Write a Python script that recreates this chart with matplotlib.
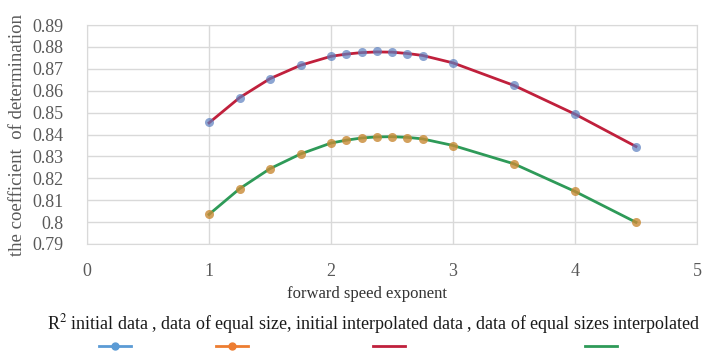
import matplotlib
matplotlib.use('Agg')
import matplotlib.pyplot as plt

plt.rcParams['font.family'] = ['Liberation Serif', 'DejaVu Serif']
plt.rcParams['mathtext.fontset'] = 'stix'

# forward speed exponent
x = [1, 1.25, 1.5, 1.75, 2, 2.125, 2.25, 2.375, 2.5, 2.625, 2.75, 3, 3.5, 4, 4.5]

# R^2 values
initial = [0.8458, 0.8567, 0.8653, 0.8717, 0.8759, 0.8768, 0.8775, 0.8779,
           0.8775, 0.8768, 0.8759, 0.8728, 0.8626, 0.8494, 0.8344]
equal_size = [0.8037, 0.8151, 0.8242, 0.8311, 0.8363, 0.8375, 0.8386, 0.8390,
              0.8390, 0.8386, 0.8378, 0.8349, 0.8265, 0.8142, 0.8000]
initial_interp = [0.8453, 0.8568, 0.8655, 0.8716, 0.8757, 0.8767, 0.8774, 0.8777,
                  0.8776, 0.8770, 0.8761, 0.8727, 0.8624, 0.8493, 0.8345]
equal_interp = [0.8035, 0.8152, 0.8244, 0.8311, 0.8361, 0.8374, 0.8384, 0.8389,
                0.8390, 0.8387, 0.8380, 0.8350, 0.8266, 0.8140, 0.7999]

xticks = [0, 1, 2, 3, 4, 5]
yticks = [0.79, 0.80, 0.81, 0.82, 0.83, 0.84, 0.85, 0.86, 0.87, 0.88, 0.89]
ytick_labels = ['0.79', '0.8', '0.81', '0.82', '0.83', '0.84', '0.85',
                '0.86', '0.87', '0.88', '0.89']

legend_text = r'R$^{2}$ initial data , data of equal size, initial interpolated data , data of equal sizes interpolated'

fig = plt.figure(figsize=(7.02, 3.52), dpi=100)
ax = fig.add_axes([87/702, 1 - 244/352, 610/702, 219/352])

red = '#c0203c'
green = '#2e9a58'
blue = '#5b7fbf'
orange = '#c98a35'

ax.plot(x, initial_interp, color=red, lw=2, zorder=3)
ax.plot(x, equal_interp, color=green, lw=2, zorder=3)
ax.plot(x, initial, 'o', color=blue, ms=6.5, alpha=0.7, mec='none', zorder=4)
ax.plot(x, equal_size, 'o', color=orange, ms=6.5, alpha=0.8, mec='none', zorder=4)

ax.set_xlim(0, 5)
ax.set_ylim(0.79, 0.89)
ax.set_xticks(xticks)
ax.set_yticks(yticks)
ax.set_yticklabels(ytick_labels)
ax.tick_params(length=0, labelsize=13, labelcolor='#595959')
ax.tick_params(axis='y', pad=17)
ax.tick_params(axis='x', pad=14)
ax.grid(True, color='#d9d9d9', lw=1)
ax.set_axisbelow(True)
for s in ax.spines.values():
    s.set_color('#d9d9d9')

ax.set_ylabel('the coefficient  of determination', fontsize=13.5, color='#595959')
ax.yaxis.set_label_coords(-0.1, 0.5)
ax.set_xlabel('forward speed exponent', fontsize=12, color='#333333')
ax.xaxis.set_label_coords(0.459, -0.19)

fig.text(374/702, 1 - 324/352, legend_text, fontsize=13, color='#1a1a1a',
         ha='center', va='center')

# legend keys below the text
key_handles = [
    plt.Line2D([], [], color='#5b9bd5', lw=2, marker='o', ms=5),
    plt.Line2D([], [], color='#ed7d31', lw=2, marker='o', ms=5),
    plt.Line2D([], [], color=red, lw=2),
    plt.Line2D([], [], color=green, lw=2),
]
key_x = [111, 228, 385, 597]
for h, kx in zip(key_handles, key_x):
    fig.legend([h], [''], loc='center', bbox_to_anchor=(kx/702 + 0.006, 1 - 347/352),
               frameon=False, handlelength=2.3, handletextpad=0, borderpad=0)

fig.savefig('out.png', dpi=100)
